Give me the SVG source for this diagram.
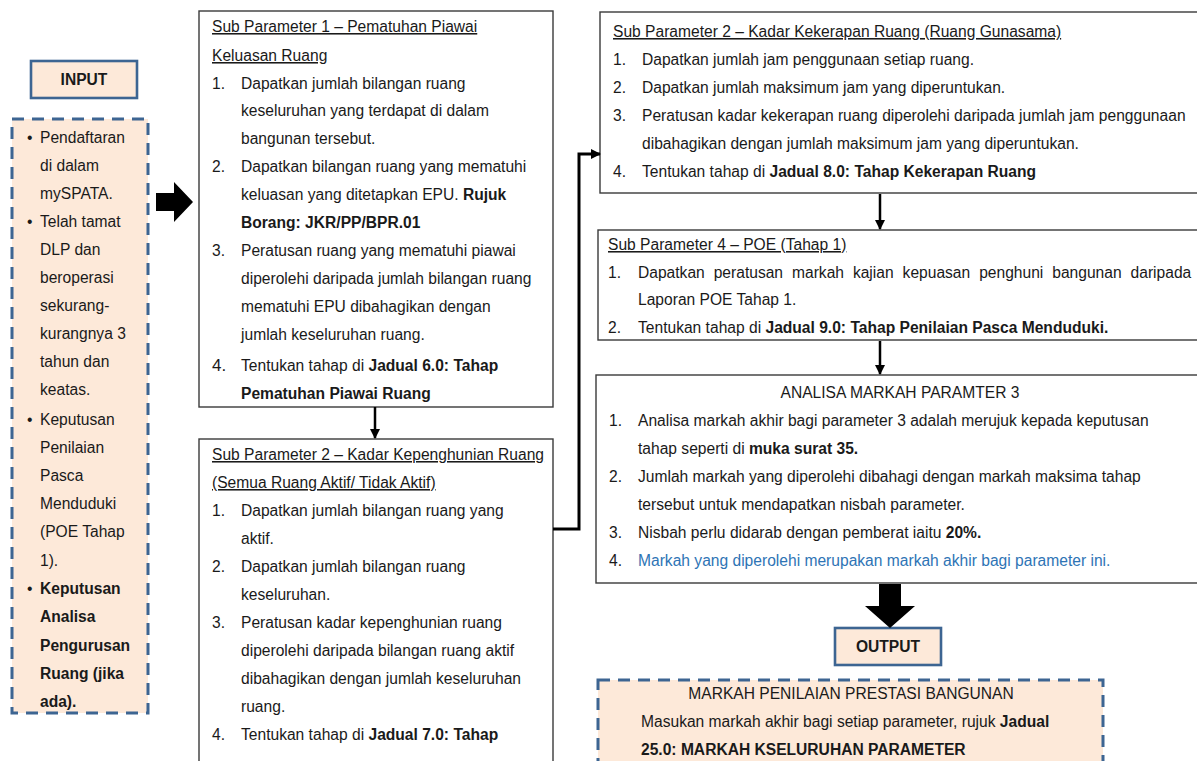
<svg xmlns="http://www.w3.org/2000/svg" width="1197" height="761" viewBox="0 0 1197 761">
<defs>
<style>
text{font-family:"Liberation Sans",Arial,sans-serif;font-size:15.6px;fill:#1a1a1a}
.b{font-weight:bold}
.u{text-decoration:underline}
.box{fill:#ffffff;stroke:#3a3a3a;stroke-width:1.4}
.io{fill:#fde9d9;stroke:#3d6592;stroke-width:2.6}
.dash{fill:#fde9d9;stroke:#3d6592;stroke-width:3;stroke-dasharray:12 8}
.blue{fill:#2e74b5}
.conn{fill:none;stroke:#000;stroke-width:2.5}
</style>
<marker id="ah" markerWidth="10" markerHeight="10" refX="9" refY="5" orient="auto" markerUnits="userSpaceOnUse">
<path d="M0,0 L10,5 L0,10 Z" fill="#000"/>
</marker>
<clipPath id="c1"><rect x="199" y="11" width="354" height="395"/></clipPath>
<clipPath id="c4"><rect x="598" y="230" width="600" height="109"/></clipPath>
</defs>

<g id="input-label">
<rect class="io" x="31" y="61" width="106" height="37"/>
<text x="84" y="85" text-anchor="middle" class="b">INPUT</text>
</g>

<g id="input">
<rect class="dash" x="12" y="119" width="136" height="594"/>
<text x="27" y="143">•</text><text x="40" y="143">Pendaftaran</text>
<text x="40" y="171">di dalam</text>
<text x="40" y="199">mySPATA.</text>
<text x="27" y="227">•</text><text x="40" y="227">Telah tamat</text>
<text x="40" y="255">DLP dan</text>
<text x="40" y="283">beroperasi</text>
<text x="40" y="311">sekurang-</text>
<text x="40" y="339">kurangnya 3</text>
<text x="40" y="367">tahun dan</text>
<text x="40" y="395">keatas.</text>
<text x="27" y="425">•</text><text x="40" y="425">Keputusan</text>
<text x="40" y="453">Penilaian</text>
<text x="40" y="481">Pasca</text>
<text x="40" y="509">Menduduki</text>
<text x="40" y="537">(POE Tahap</text>
<text x="40" y="566">1).</text>
<text x="27" y="594">•</text><text x="40" y="594" class="b">Keputusan</text>
<text x="40" y="622" class="b">Analisa</text>
<text x="40" y="651" class="b">Pengurusan</text>
<text x="40" y="679" class="b">Ruang (jika</text>
<text x="40" y="707" class="b">ada).</text>
</g>

<g id="sp1">
<rect class="box" x="199" y="11" width="354" height="396"/>
<g clip-path="url(#c1)">
<text x="212" y="32" class="u">Sub Parameter 1 – Pematuhan Piawai</text>
<text x="212" y="61" class="u">Keluasan Ruang</text>
<text x="212" y="89">1.</text><text x="241" y="89">Dapatkan jumlah bilangan ruang</text>
<text x="241" y="116">keseluruhan yang terdapat di dalam</text>
<text x="241" y="144">bangunan tersebut.</text>
<text x="212" y="172">2.</text><text x="241" y="172">Dapatkan bilangan ruang yang mematuhi</text>
<text x="241" y="200">keluasan yang ditetapkan EPU. <tspan class="b">Rujuk</tspan></text>
<text x="241" y="228" class="b">Borang: JKR/PP/BPR.01</text>
<text x="212" y="256">3.</text><text x="241" y="256">Peratusan ruang yang mematuhi piawai</text>
<text x="241" y="284">diperolehi daripada jumlah bilangan ruang</text>
<text x="241" y="312">mematuhi EPU dibahagikan dengan</text>
<text x="241" y="340">jumlah keseluruhan ruang.</text>
<text x="212" y="371" style="font-size:17px">4.</text><text x="241" y="371">Tentukan tahap di <tspan class="b">Jadual 6.0: Tahap</tspan></text>
<text x="241" y="399" class="b">Pematuhan Piawai Ruang</text>
</g>
</g>

<g id="sp2a">
<rect class="box" x="199" y="439" width="354" height="340"/>
<text x="212" y="460" class="u">Sub Parameter 2 – Kadar Kepenghunian Ruang</text>
<text x="212" y="488" class="u">(Semua Ruang Aktif/ Tidak Aktif)</text>
<text x="212" y="516">1.</text><text x="241" y="516">Dapatkan jumlah bilangan ruang yang</text>
<text x="241" y="544">aktif.</text>
<text x="212" y="572">2.</text><text x="241" y="572">Dapatkan jumlah bilangan ruang</text>
<text x="241" y="600">keseluruhan.</text>
<text x="212" y="628">3.</text><text x="241" y="628">Peratusan kadar kepenghunian ruang</text>
<text x="241" y="656">diperolehi daripada bilangan ruang aktif</text>
<text x="241" y="684">dibahagikan dengan jumlah keseluruhan</text>
<text x="241" y="712">ruang.</text>
<text x="212" y="740">4.</text><text x="241" y="740">Tentukan tahap di <tspan class="b">Jadual 7.0: Tahap</tspan></text>
</g>

<g id="sp2b">
<rect class="box" x="600" y="12" width="610" height="181"/>
<text x="613" y="37" class="u">Sub Parameter 2 – Kadar Kekerapan Ruang (Ruang Gunasama)</text>
<text x="613" y="65">1.</text><text x="642" y="65">Dapatkan jumlah jam penggunaan setiap ruang.</text>
<text x="613" y="93">2.</text><text x="642" y="93">Dapatkan jumlah maksimum jam yang diperuntukan.</text>
<text x="613" y="121">3.</text><text x="642" y="121">Peratusan kadar kekerapan ruang diperolehi daripada jumlah jam penggunaan</text>
<text x="642" y="149">dibahagikan dengan jumlah maksimum jam yang diperuntukan.</text>
<text x="613" y="177">4.</text><text x="642" y="177">Tentukan tahap di <tspan class="b">Jadual 8.0: Tahap Kekerapan Ruang</tspan></text>
</g>

<g id="sp4">
<rect class="box" x="598" y="230" width="610" height="110"/>
<g clip-path="url(#c4)">
<text x="608" y="250" class="u">Sub Parameter 4 – POE (Tahap 1)</text>
<text x="608" y="278">1.</text><text x="638" y="278" word-spacing="4.6">Dapatkan peratusan markah kajian kepuasan penghuni bangunan daripada</text>
<text x="638" y="305">Laporan POE Tahap 1.</text>
<text x="608" y="333">2.</text><text x="638" y="333">Tentukan tahap di <tspan class="b">Jadual 9.0: Tahap Penilaian Pasca Menduduki.</tspan></text>
</g>
</g>

<g id="analisa">
<rect class="box" x="596" y="375" width="612" height="208"/>
<text x="900" y="398" text-anchor="middle">ANALISA MARKAH PARAMTER 3</text>
<text x="609" y="426">1.</text><text x="638" y="426">Analisa markah akhir bagi parameter 3 adalah merujuk kepada keputusan</text>
<text x="638" y="454">tahap seperti di <tspan class="b">muka surat 35.</tspan></text>
<text x="609" y="482">2.</text><text x="638" y="482">Jumlah markah yang diperolehi dibahagi dengan markah maksima tahap</text>
<text x="638" y="510">tersebut untuk mendapatkan nisbah parameter.</text>
<text x="609" y="538">3.</text><text x="638" y="538">Nisbah perlu didarab dengan pemberat iaitu <tspan class="b">20%.</tspan></text>
<text x="609" y="566">4.</text><text x="638" y="566" class="blue">Markah yang diperolehi merupakan markah akhir bagi parameter ini.</text>
</g>

<g id="output-label">
<rect class="io" x="835" y="628" width="106" height="37"/>
<text x="888" y="652" text-anchor="middle" class="b">OUTPUT</text>
</g>

<g id="output">
<rect class="dash" x="598" y="680" width="505" height="110"/>
<text x="851" y="699" text-anchor="middle">MARKAH PENILAIAN PRESTASI BANGUNAN</text>
<text x="641" y="727">Masukan markah akhir bagi setiap parameter, rujuk <tspan class="b">Jadual</tspan></text>
<text x="641" y="755" class="b">25.0: MARKAH KSELURUHAN PARAMETER</text>
</g>

<g id="connectors">
<path d="M156,193 H174 V182 L193,202 L174,222 V211 H156 Z" fill="#000"/>
<line class="conn" x1="375" y1="407" x2="375" y2="438" marker-end="url(#ah)"/>
<polyline class="conn" style="stroke-width:3" points="553,529 579,529 579,154 600,154" marker-end="url(#ah)"/>
<line class="conn" x1="880" y1="194" x2="880" y2="229" marker-end="url(#ah)"/>
<line class="conn" x1="880" y1="341" x2="880" y2="374" marker-end="url(#ah)"/>
<path d="M879,584 H901 V606 H915 L890,628 L865,606 H879 Z" fill="#000"/>
</g>
</svg>
